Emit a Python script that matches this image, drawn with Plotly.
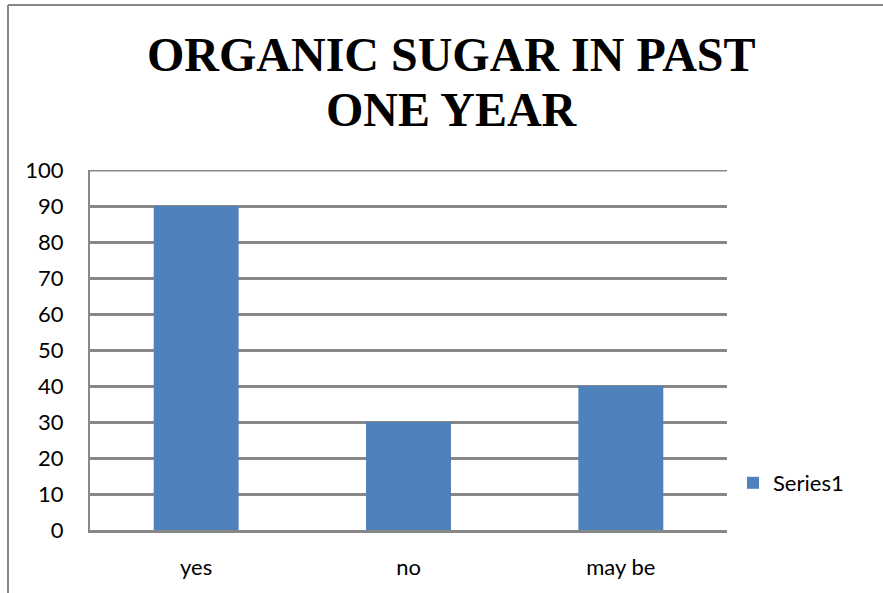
import plotly.graph_objects as go

# Survey responses
categories = ["yes", "no", "may be"]
values = [90, 30, 40]
series_name = "Series1"
y_ticks = list(range(0, 101, 10))

W, H = 883, 593
L, R, T, B = 90, W - 727, 170, H - 530
BAR = "#4F81BD"
GRID = "#878787"
TICK_FONT = dict(family="Lato, Carlito, sans-serif", size=22, color="#000000")

fig = go.Figure(
    go.Bar(
        x=categories,
        y=values,
        name=series_name,
        marker=dict(color=BAR, line=dict(width=0)),
        width=0.4,
        showlegend=True,
    )
)

pw, ph = W - L - R, H - T - B


def px_x(x):
    return (x - L) / pw


def px_y(y):
    return (H - B - y) / ph


# Chart frame: left and top edges
fig.add_shape(type="line", xref="paper", yref="paper",
              x0=px_x(8), x1=px_x(8), y0=px_y(5), y1=px_y(H + 20),
              line=dict(color=GRID, width=2))
fig.add_shape(type="line", xref="paper", yref="paper",
              x0=px_x(8), x1=px_x(W + 20), y0=px_y(5), y1=px_y(5),
              line=dict(color=GRID, width=2))

# Gridline at the top of the value range
fig.add_shape(type="line", xref="paper", yref="y",
              x0=0, x1=1, y0=y_ticks[-1], y1=y_ticks[-1],
              line=dict(color=GRID, width=3), layer="below")

# Two-line title
title_font = dict(family="Liberation Serif, Times New Roman, serif", size=48, color="#000000")
fig.add_annotation(text="<b>ORGANIC SUGAR IN PAST</b>", xref="paper", yref="paper",
                   x=px_x(452), y=px_y(54), xanchor="center", yanchor="middle",
                   showarrow=False, font=title_font)
fig.add_annotation(text="<b>ONE YEAR</b>", xref="paper", yref="paper",
                   x=px_x(452), y=px_y(110), xanchor="center", yanchor="middle",
                   showarrow=False, font=title_font)

fig.update_layout(
    width=W,
    height=H,
    margin=dict(l=L, r=R, t=T, b=B, pad=0, autoexpand=False),
    paper_bgcolor="white",
    plot_bgcolor="white",
    bargap=0.6,
    legend=dict(
        xref="container", yref="container",
        x=733 / W, y=1 - 483 / H,
        xanchor="left", yanchor="middle",
        font=TICK_FONT,
        bgcolor="rgba(0,0,0,0)",
        itemwidth=30,
    ),
)

fig.update_xaxes(
    showline=True, linecolor=GRID, linewidth=3,
    showgrid=False, ticks="", tickfont=TICK_FONT,
    ticklabelstandoff=16, automargin=False,
)
fig.update_yaxes(
    range=[0, 100], tickvals=y_ticks,
    showline=True, linecolor=GRID, linewidth=2,
    showgrid=True, gridcolor=GRID, gridwidth=3,
    zeroline=False, ticks="", tickfont=TICK_FONT,
    ticklabelstandoff=20, automargin=False,
)

fig.write_html("out.html")
